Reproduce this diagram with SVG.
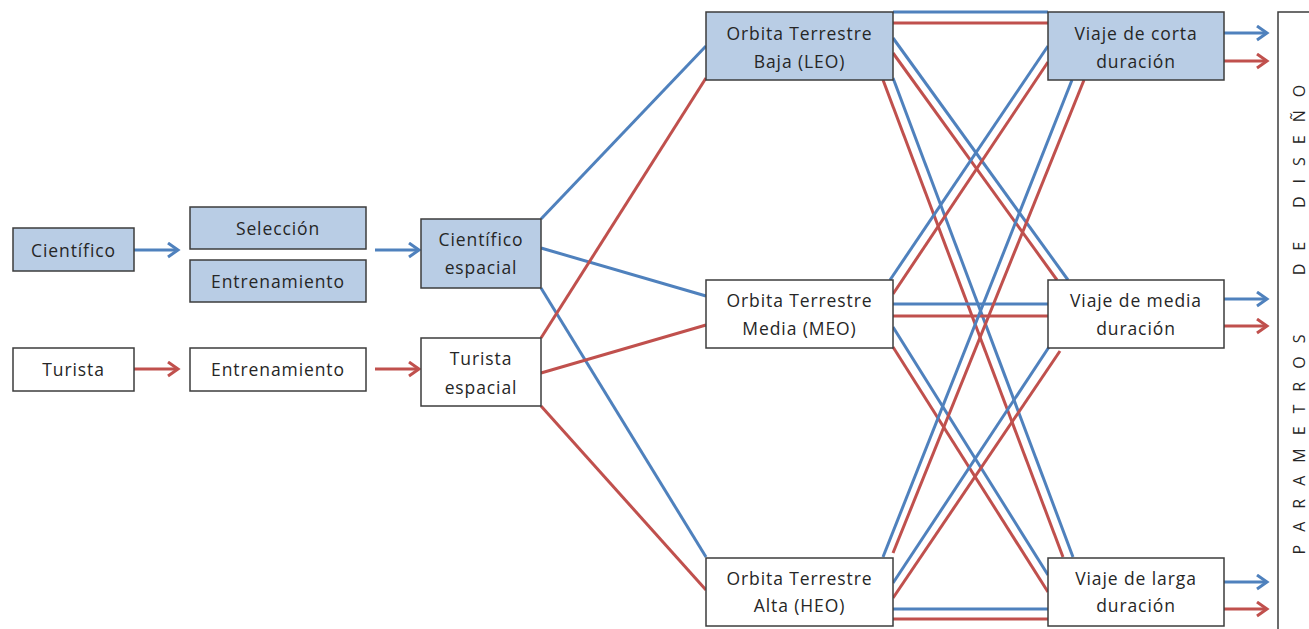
<svg xmlns="http://www.w3.org/2000/svg" width="1309" height="629" viewBox="0 0 1309 629">
  <defs>
    <style>
      .box { stroke: #3c3c3c; stroke-width: 1.5; }
      .fill-blue { fill: #b9cde5; }
      .fill-white { fill: #ffffff; }
      .lbl { font-family: "Open Sans", "Noto Sans", sans-serif; font-size: 17.5px; letter-spacing: 0.9px; fill: #262626; text-anchor: middle; dominant-baseline: central; }
      .side { font-family: "Open Sans", "Noto Sans", sans-serif; font-size: 16px; fill: #262626; text-anchor: middle; letter-spacing: 13px; }
      .c-blue { stroke: #4f81bd; stroke-width: 3; fill: none; }
      .c-red { stroke: #c0504d; stroke-width: 3; fill: none; }
      .arr-blue { stroke: #4f81bd; stroke-width: 3; fill: none; marker-end: url(#head-blue); }
      .arr-red { stroke: #c0504d; stroke-width: 3; fill: none; marker-end: url(#head-red); }
    </style>
    <marker id="head-blue" markerUnits="userSpaceOnUse" markerWidth="16" markerHeight="18" refX="12" refY="8" orient="auto" viewBox="0 0 16 18">
      <path d="M2,1 L12,8 L2,15" fill="none" stroke="#4f81bd" stroke-width="3"/>
    </marker>
    <marker id="head-red" markerUnits="userSpaceOnUse" markerWidth="16" markerHeight="18" refX="12" refY="8" orient="auto" viewBox="0 0 16 18">
      <path d="M2,1 L12,8 L2,15" fill="none" stroke="#c0504d" stroke-width="3"/>
    </marker>
  </defs>

  <rect width="1309" height="629" fill="#ffffff"/>

  <g id="connectors">
    <!-- profile to preparation to role -->
    <line class="arr-blue" x1="134" y1="250" x2="178" y2="250"/>
    <line class="arr-blue" x1="375" y1="250" x2="419" y2="250"/>
    <line class="arr-red" x1="134" y1="369" x2="178" y2="369"/>
    <line class="arr-red" x1="375" y1="369" x2="419" y2="369"/>

    <!-- role to orbit -->
    <line class="c-blue" x1="541" y1="219" x2="706" y2="46"/>
    <line class="c-blue" x1="541" y1="248" x2="706" y2="296"/>
    <line class="c-blue" x1="541" y1="288" x2="706" y2="557"/>
    <line class="c-red" x1="541" y1="338" x2="706" y2="78"/>
    <line class="c-red" x1="541" y1="373" x2="706" y2="325"/>
    <line class="c-red" x1="541" y1="406" x2="706" y2="590"/>

    <!-- orbit to trip duration -->
    <line class="c-blue" x1="893" y1="12" x2="1048" y2="12"/>
    <line class="c-red" x1="893" y1="23" x2="1048" y2="23"/>
    <line class="c-blue" x1="893" y1="38" x2="1068" y2="280"/>
    <line class="c-red" x1="893" y1="53" x2="1057" y2="280"/>
    <line class="c-red" x1="883" y1="80" x2="1063" y2="557"/>
    <line class="c-blue" x1="893" y1="78" x2="1073" y2="557"/>

    <line class="c-blue" x1="890" y1="280" x2="1048" y2="46"/>
    <line class="c-red" x1="893" y1="294" x2="1048" y2="62"/>
    <line class="c-blue" x1="893" y1="304" x2="1048" y2="304"/>
    <line class="c-red" x1="893" y1="316" x2="1048" y2="316"/>
    <line class="c-blue" x1="893" y1="327" x2="1048" y2="575"/>
    <line class="c-red" x1="893" y1="347" x2="1048" y2="592"/>

    <line class="c-blue" x1="883" y1="557" x2="1072" y2="80"/>
    <line class="c-red" x1="893" y1="553" x2="1084" y2="80"/>
    <line class="c-blue" x1="893" y1="583" x2="1049" y2="347"/>
    <line class="c-red" x1="893" y1="598" x2="1060" y2="351"/>
    <line class="c-blue" x1="893" y1="609" x2="1048" y2="609"/>
    <line class="c-red" x1="893" y1="619" x2="1048" y2="619"/>

    <!-- trip duration to design parameters -->
    <line class="arr-blue" x1="1224" y1="33" x2="1267" y2="33"/>
    <line class="arr-red" x1="1224" y1="61" x2="1267" y2="61"/>
    <line class="arr-blue" x1="1224" y1="299" x2="1267" y2="299"/>
    <line class="arr-red" x1="1224" y1="326" x2="1267" y2="326"/>
    <line class="arr-blue" x1="1224" y1="582" x2="1267" y2="582"/>
    <line class="arr-red" x1="1224" y1="609" x2="1267" y2="609"/>
  </g>

  <g id="cientifico">
    <rect class="box fill-blue" x="13" y="228" width="121" height="43"/>
    <text class="lbl" x="73.5" y="250">Científico</text>
  </g>
  <g id="seleccion">
    <rect class="box fill-blue" x="190" y="207" width="176" height="42"/>
    <text class="lbl" x="278" y="228">Selección</text>
  </g>
  <g id="entrenamiento-cientifico">
    <rect class="box fill-blue" x="190" y="260" width="176" height="42"/>
    <text class="lbl" x="278" y="281">Entrenamiento</text>
  </g>
  <g id="cientifico-espacial">
    <rect class="box fill-blue" x="421" y="219" width="120" height="69"/>
    <text class="lbl" x="481" y="239">Científico</text>
    <text class="lbl" x="481" y="267">espacial</text>
  </g>

  <g id="turista">
    <rect class="box fill-white" x="13" y="348" width="121" height="43"/>
    <text class="lbl" x="73.5" y="369">Turista</text>
  </g>
  <g id="entrenamiento-turista">
    <rect class="box fill-white" x="190" y="348" width="176" height="43"/>
    <text class="lbl" x="278" y="369">Entrenamiento</text>
  </g>
  <g id="turista-espacial">
    <rect class="box fill-white" x="421" y="338" width="120" height="68"/>
    <text class="lbl" x="481" y="358">Turista</text>
    <text class="lbl" x="481" y="387">espacial</text>
  </g>

  <g id="leo">
    <rect class="box fill-blue" x="706" y="12" width="187" height="68"/>
    <text class="lbl" x="799.5" y="33">Orbita Terrestre</text>
    <text class="lbl" x="799.5" y="61">Baja (LEO)</text>
  </g>
  <g id="meo">
    <rect class="box fill-white" x="706" y="280" width="187" height="68"/>
    <text class="lbl" x="799.5" y="300">Orbita Terrestre</text>
    <text class="lbl" x="799.5" y="328">Media (MEO)</text>
  </g>
  <g id="heo">
    <rect class="box fill-white" x="706" y="558" width="187" height="68"/>
    <text class="lbl" x="799.5" y="578">Orbita Terrestre</text>
    <text class="lbl" x="799.5" y="605">Alta (HEO)</text>
  </g>

  <g id="viaje-corta">
    <rect class="box fill-blue" x="1048" y="12" width="176" height="68"/>
    <text class="lbl" x="1136" y="33">Viaje de corta</text>
    <text class="lbl" x="1136" y="61">duración</text>
  </g>
  <g id="viaje-media">
    <rect class="box fill-white" x="1048" y="280" width="176" height="68"/>
    <text class="lbl" x="1136" y="300">Viaje de media</text>
    <text class="lbl" x="1136" y="328">duración</text>
  </g>
  <g id="viaje-larga">
    <rect class="box fill-white" x="1048" y="558" width="176" height="68"/>
    <text class="lbl" x="1136" y="578">Viaje de larga</text>
    <text class="lbl" x="1136" y="605">duración</text>
  </g>

  <g id="parametros-diseno">
    <path d="M1309,12 H1278 V629" fill="none" stroke="#3c3c3c" stroke-width="1.5"/>
    <g transform="rotate(-90)">
      <text class="side" x="-438" y="1305">PARAMETROS</text>
      <text class="side" x="-252" y="1305">DE</text>
      <text class="side" x="-140" y="1305">DISEÑO</text>
    </g>
  </g>
</svg>
